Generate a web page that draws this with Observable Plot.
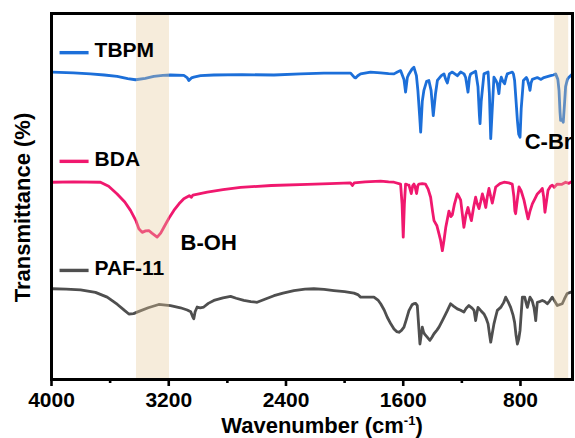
<!DOCTYPE html>
<html><head><meta charset="utf-8">
<script src="https://cdn.jsdelivr.net/npm/d3@7"></script>
<script src="https://cdn.jsdelivr.net/npm/@observablehq/plot@0.6"></script>
<style>body{margin:0;background:#fff} svg{display:block}</style>
</head><body><div id="chart"></div>
<script>
// ---------- data ----------
const seriesNames = ["TBPM", "BDA", "PAF-11"];
const seriesColors = ["#1c6fd9", "#f0186e", "#4f4f4f"];

const tbpmWavenumber = [3995,3850,3734,3640,3552,3480,3427,3360,3302,3240,3188,3097,3075,3063,3045,3029,2983,2892,2700,2482,2300,2141,1959,1935,1925,1910,1891,1823,1754,1700,1663,1640,1618,1595,1584,1572,1561,1540,1527,1510,1500,1488,1481,1470,1459,1440,1425,1410,1395,1380,1367,1340,1322,1310,1299,1285,1265,1231,1208,1185,1174,1158,1148,1140,1106,1090,1080,1076,1068,1049,1021,1012,1003,995,981,965,958,947,940,931,920,908,898,890,856,848,840,830,821,812,803,795,780,760,753,740,735,728,719,685,660,640,594,575,560,545,537,530,526,515,508,500,492,480,469,446];
const tbpmValue = [84.0,83.8,83.5,83.2,82.8,82.2,81.9,82.3,82.8,83.1,83.2,83.1,82.5,81.7,82.4,82.6,83.0,83.2,83.3,83.2,83.5,83.7,83.7,82.6,82.4,83.0,83.5,84.0,83.8,83.6,83.5,84.0,84.4,82,78.5,82.5,83.5,84.8,85.3,83,79,72,67.6,76,79,81.5,81.7,79,72.1,78,81.7,83,83.5,82,81,83.5,84,83,84,83.5,82.5,78.5,82.5,83.5,84.2,80,72,69.9,76,83.5,84,78,65.8,72,82.6,81.5,80.8,78.1,81,82.6,81.5,80.8,82.5,83.5,84,83.5,81.7,76,70.8,67,66.2,74,81.7,82.5,82,80,79,81,82,82.5,82,82.5,83,83.2,83.5,82,79,73,70.8,71,70.3,75,80,82,82.6,83.5];

const bdaWavenumber = [3995,3850,3666,3610,3552,3500,3461,3425,3404,3381,3358,3336,3315,3279,3255,3233,3200,3165,3130,3097,3060,3045,3035,2937,2830,2710,2500,2255,2100,1960,1947,1935,1860,1754,1700,1663,1618,1608,1600,1592,1584,1570,1561,1545,1535,1527,1518,1509,1500,1493,1470,1448,1430,1413,1400,1390,1370,1356,1345,1333,1322,1310,1298,1288,1275,1265,1250,1231,1220,1208,1196,1186,1172,1158,1146,1135,1120,1106,1095,1083,1072,1060,1048,1037,1026,1015,1003,992,980,969,940,912,880,856,845,838,833,825,810,795,776,760,748,735,719,700,685,665,651,642,633,625,612,595,583,570,549,520,492,470,446];
const bdaValue = [53.9,54.0,53.9,52.8,50.7,48.5,46.2,43.5,41.2,40.2,40.6,40.7,40.0,38.9,40.0,41.6,44.0,46.2,48.0,49.4,50.2,49.8,50.4,51.2,51.9,52.5,53.0,53.3,53.5,53.7,53.0,53.7,54.0,54.2,54.0,53.9,53.4,48,38.9,48,53.4,53.2,53.1,50.8,53,53.4,52.5,50.8,53,53.4,53.5,53.4,52,49.8,46,43.4,42,39.8,38,35.2,38,41.5,44,46,44.5,45,48,50.7,50,49,45,41.6,45,47,45,43.4,47,49.8,48,46.7,48.5,50.7,49,47,50,52.2,50,48.2,50.5,52.6,53.5,53.9,53.7,53.4,50,46,45.3,48,52.6,51.5,49,46,43.9,46,48,49.5,50.7,51.5,52.2,50,45.7,48,51.7,52.8,53.1,52.5,53.4,53.3,53.9,53.6,54.2];

const pafWavenumber = [3995,3900,3802,3700,3620,3550,3500,3472,3440,3416,3340,3268,3188,3120,3074,3050,3035,3029,3020,3006,2985,2961,2930,2892,2830,2778,2740,2688,2640,2597,2540,2482,2420,2346,2270,2210,2140,2073,2000,1936,1910,1891,1850,1800,1770,1754,1730,1709,1685,1663,1645,1629,1612,1595,1578,1561,1540,1527,1515,1504,1495,1486,1478,1470,1462,1454,1435,1418,1405,1390,1370,1356,1333,1315,1299,1277,1255,1231,1208,1186,1170,1152,1130,1117,1106,1098,1090,1070,1049,1035,1021,1010,1003,995,981,970,958,935,915,901,885,867,850,840,830,821,812,803,795,787,771,762,753,745,735,720,708,700,696,690,685,668,651,635,617,600,583,565,549,530,515,500,481,460,446];
const pafValue = [24.8,24.7,24.5,23.8,22.5,20.5,18.8,17.9,18.0,18.4,19.6,20.5,20.2,19.6,19.0,18.5,17.0,16.6,18.5,19.8,19.6,19.8,20.8,21.6,22.3,22.7,22.2,21.6,21.3,21.1,22.0,22.9,23.6,24.3,24.7,24.8,24.6,24.3,24.0,23.6,23.2,22.5,22.5,22.5,21.6,20.7,19,17,15.2,13.8,13.1,12.9,13.4,14.3,16.5,18.8,20.4,20.7,20.8,20.2,15,9.7,12,14.3,13,12.4,11.5,10.7,11.5,12.5,13.5,14.3,16.1,17.5,18.8,20.7,20,19.3,18.9,18.4,19.5,20.2,19.5,18.9,16.1,18,19.7,18.8,17.9,16.8,15.2,12,10.2,12,15.2,17,18.9,19.7,21,22.5,21.3,19.7,17.5,15.6,12,9.7,11,13.4,18,22.5,22.5,21,19.7,21,22.5,21.5,19.7,17.5,16.1,19,21.1,21.3,21.6,21.3,20.7,21.5,22.5,21.3,20.2,20.5,20.7,22,23.5,23.8,24];

const majorTicks = [4000, 3200, 2400, 1600, 800];
const minorTicks = [3600, 2800, 2000, 1200];
const bandFrom = [3420, 567];
const bandTo = [3195, 471];
const annotationLabels = ["B-OH", "C-Br"];
const xTitle = "Wavenumber (cm";
const xTitleSup = "-1";
const yTitle = "Transmittance (%)";

// ---------- tables built from the arrays ----------
const wnList = [tbpmWavenumber, bdaWavenumber, pafWavenumber];
const valList = [tbpmValue, bdaValue, pafValue];
const rows = [];
seriesNames.forEach((name, i) => wnList[i].forEach((w, j) => rows.push({series: name, w, t: valList[i][j]})));
const bands = bandFrom.map((f, i) => ({from: f, to: bandTo[i]}));

// placement (layout only)
const legendY = [89.3, 59.6, 29.8];
const annotationX = [3119, 771];
const annotationY = [37.3, 65];
const legendRows = seriesNames.map((s, i) => ({series: s, y: legendY[i]}));
const annRows = annotationLabels.map((s, i) => ({label: s, x: annotationX[i], y: annotationY[i]}));

const font = "'Liberation Sans', Arial, Helvetica, sans-serif";

const plot = Plot.plot({
  width: 575, height: 438,
  marginLeft: 51, marginRight: 3, marginTop: 13, marginBottom: 59,
  style: {fontFamily: font, background: "#fff", overflow: "visible"},
  x: {domain: [4000, 445], axis: null},
  y: {domain: [0, 100], axis: null},
  color: {domain: seriesNames, range: seriesColors},
  marks: [
    Plot.line(rows, {x: "w", y: "t", z: "series", stroke: "series", strokeWidth: 2.8, strokeLinejoin: "round", curve: "linear"}),
    Plot.rect(bands, {x1: "from", x2: "to", y1: () => 0, y2: () => 100, fill: "#e5c998", fillOpacity: 0.35}),
    Plot.frame({stroke: "#000", strokeWidth: 3}),
    Plot.axisX({ticks: minorTicks, tickSize: 4, strokeWidth: 2.6, tickFormat: () => ""}),
    Plot.axisX({ticks: majorTicks, tickSize: 7, strokeWidth: 2.6, tickPadding: 6, fontSize: 21, fontWeight: "bold", fill: "#000", tickFormat: d => String(d)}),
    // legend
    Plot.link(legendRows, {x1: () => 3945, x2: () => 3747, y1: "y", y2: "y", stroke: "series", strokeWidth: 3.4}),
    Plot.text(legendRows, {x: () => 3706, y: "y", text: "series", dy: -2, textAnchor: "start", lineAnchor: "middle", fontSize: 21, fontWeight: "bold", fill: "#000"}),
    // annotations
    Plot.text(annRows, {x: "x", y: "y", text: "label", textAnchor: "start", lineAnchor: "middle", fontSize: 22, fontWeight: "bold", fill: "#000"}),
    // titles
    Plot.text([xTitle], {text: d => d, frameAnchor: "bottom", dy: 46, dx: 10, lineAnchor: "middle", fontSize: 22, fontWeight: "bold", fill: "#000"}),
    Plot.text([yTitle], {text: d => d, frameAnchor: "left", dx: -29, dy: 11, rotate: -90, textAnchor: "middle", lineAnchor: "middle", fontSize: 22, fontWeight: "bold", fill: "#000"})
  ]
});

// superscript in the x title
d3.select(plot).selectAll("text").filter(function () { return this.textContent === xTitle; }).each(function () {
  const t = d3.select(this);
  t.text(null);
  t.append("tspan").text(xTitle);
  t.append("tspan").attr("font-size", 13).attr("dy", -8).text(xTitleSup);
  t.append("tspan").attr("dy", 8).text(")");
});

document.getElementById("chart").appendChild(plot);
</script>
</body></html>
